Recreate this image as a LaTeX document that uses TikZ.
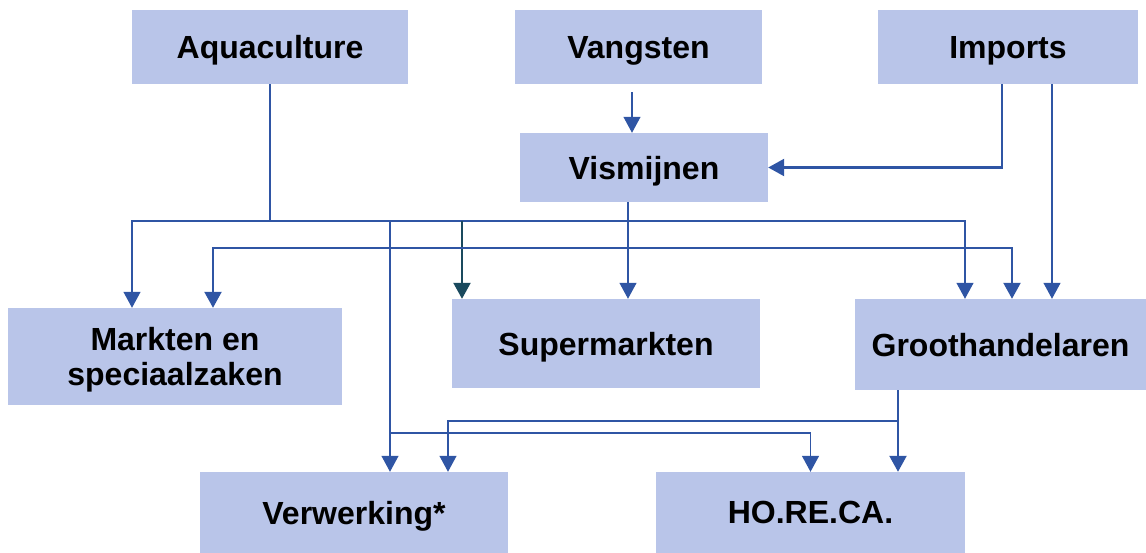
\documentclass[tikz,border=0pt]{standalone}
\usepackage{fontspec}
\setmainfont{Liberation Sans}
\usetikzlibrary{arrows.meta,positioning,calc}
\definecolor{boxfill}{HTML}{B9C5E9}
\definecolor{linkblue}{HTML}{2F55A4}
\definecolor{darkteal}{HTML}{1A4A5E}

\begin{document}
\begin{tikzpicture}[
    x=1pt, y=-1pt,
    font=\fontsize{32}{35}\selectfont\bfseries,
    chainbox/.style={rectangle,fill=boxfill,inner sep=0pt,align=center,text depth=0pt},
    link/.style={draw=linkblue,line width=1.3pt},
    flow/.style={link,-{Triangle[width=17pt,length=16pt]}},
    bigflow/.style={flow,line width=2.3pt},
    darkflow/.style={bigflow,draw=darkteal,-{Triangle[width=17pt,length=16pt,fill=darkteal]}}
]
    \useasboundingbox (0,0) rectangle (1146,553);
    % Nodes
    \node[chainbox,minimum width=276pt,minimum height=74pt] (aqua) at (270,47) {Aquaculture};
    \node[chainbox,minimum width=247pt,minimum height=74pt] (vang) at (638.5,47) {Vangsten};
    \node[chainbox,minimum width=260pt,minimum height=74pt] (imp) at (1008,47) {Imports};
    \node[chainbox,minimum width=248pt,minimum height=69pt] (vis) at (644,167.5) {Vismijnen};
    \node[chainbox,minimum width=334pt,minimum height=97pt] (markt) at (175,356.5) {Markten en\\speciaalzaken};
    \node[chainbox,minimum width=308pt,minimum height=89pt] (super) at (606,343.5) {Supermarkten};
    \node[chainbox,minimum width=291pt,minimum height=91pt] (groot) at (1000.5,344.5) {Groothandelaren};
    \node[chainbox,minimum width=308pt,minimum height=81pt] (verw) at (354,512.5) {Verwerking*};
    \node[chainbox,minimum width=309pt,minimum height=81pt] (horeca) at (810.5,512.5) {HO.RE.CA.};

    % Junctions
    \coordinate (aquajoin) at (270,221);
    \coordinate (visjoin) at (628,248);
    \coordinate (grootjoin) at (898,421);
    \coordinate (verwjoin) at (390,433);

    % Edges
    \draw[flow,shorten <=8pt] ([xshift=-6.5pt]vang.south) -- ([xshift=-6.5pt]vang.south |- vis.north);
    \draw[bigflow] ([xshift=-6pt]imp.south) |- (vis.east);
    \draw[flow] ([xshift=44pt]imp.south) -- ([xshift=44pt]imp.south |- groot.north);

    \draw[link] (aqua.south) -- (aquajoin);
    \draw[flow] (aquajoin) -| ([xshift=-43pt]markt.north);
    \draw[flow] (aquajoin) -| ([xshift=-35.5pt]groot.north);
    \draw[darkflow] ([xshift=-144pt]super.north |- aquajoin) -- ([xshift=-144pt]super.north);
    \draw[flow] ([xshift=36pt]verw.north |- aquajoin) -- ([xshift=36pt]verw.north);

    \draw[flow] ([xshift=-16pt]vis.south) -- ([xshift=-16pt]vis.south |- super.north);
    \draw[bigflow] (visjoin) -| ([xshift=38pt]markt.north);
    \draw[bigflow] (visjoin) -| ([xshift=11.5pt]groot.north);

    \draw[bigflow] ([xshift=-102.5pt]groot.south) -- ([xshift=-102.5pt]groot.south |- horeca.north);
    \draw[flow] (grootjoin) -| ([xshift=94pt]verw.north);
    \draw[flow] (verwjoin) -| (horeca.north);
\end{tikzpicture}
\end{document}
